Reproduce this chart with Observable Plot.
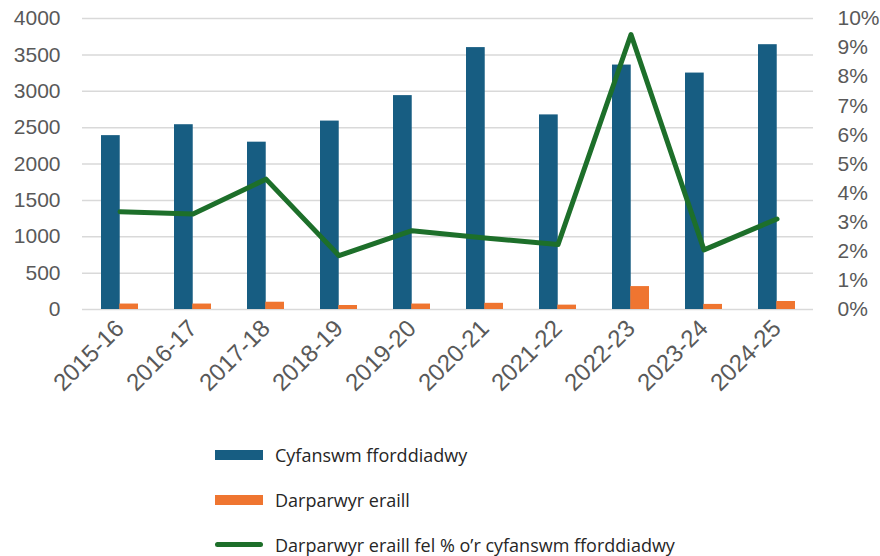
<!DOCTYPE html>
<html><head><meta charset="utf-8">
<script src="https://cdn.jsdelivr.net/npm/d3@7"></script>
<script src="https://cdn.jsdelivr.net/npm/@observablehq/plot@0.6"></script>
<style>
body{margin:0;background:#fff;}
#legend{font-family:"Open Sans",sans-serif;font-size:18px;color:#262626;padding-left:215px;padding-top:12px;}
.item{display:flex;align-items:center;height:45px;}
.sw{width:48px;height:10px;margin-right:12px;}
.ln{width:48px;height:5px;border-radius:3px;margin-right:12px;}
</style></head><body><div id="chart"></div><div id="legend"></div>
<script>
const years = ["2015-16","2016-17","2017-18","2018-19","2019-20","2020-21","2021-22","2022-23","2023-24","2024-25"];
const total = [2390,2540,2300,2590,2940,3600,2675,3360,3250,3640];
const others = [75,75,100,55,75,85,60,315,70,110];
const pct = [3.36,3.28,4.48,1.85,2.71,2.46,2.23,9.45,2.05,3.11];
const leftTicks = [0,500,1000,1500,2000,2500,3000,3500,4000];
const rightTicks = [0,1,2,3,4,5,6,7,8,9,10];
const seriesNames = ["Cyfanswm fforddiadwy","Darparwyr eraill","Darparwyr eraill fel % o’r cyfanswm fforddiadwy"];
const colors = ["#175d82","#ef7530","#1d6f2a"];

const rows = years.map((y,i)=>({year:y,total:total[i],others:others[i],pct:pct[i]}));
const k = 4000/10; // percent -> left scale
const W = 880, mL = 82, mR = 67;
const half = 0.5*(W-mL-mR)/years.length/2;

const chart = Plot.plot({
  width:W, height:420, marginLeft:mL, marginRight:mR, marginTop:18, marginBottom:111,
  style:{fontFamily:"'Liberation Sans', Arial, sans-serif", fontSize:"21px", color:"#595959", background:"#fff"},
  x:{domain:years, paddingInner:0.5, paddingOuter:0.25},
  y:{domain:[0,4000]},
  marks:[
    Plot.gridY(leftTicks,{stroke:"#d9d9d9",strokeOpacity:1,strokeWidth:1.5}),
    Plot.axisY(leftTicks,{tickSize:0,tickPadding:22,tickFormat:d=>String(d),label:null}),
    Plot.axisY(rightTicks.map(t=>t*k),{anchor:"right",tickSize:0,tickPadding:24,tickFormat:d=>Math.round(d/k)+"%",label:null}),
    Plot.axisX({tickSize:0,tickRotate:-45,tickPadding:15,fontSize:24,label:null}),
    Plot.barY(rows,{x:"year",y:"total",fill:colors[0],insetRight:half}),
    Plot.barY(rows,{x:"year",y:"others",fill:colors[1],insetLeft:half}),
    Plot.lineY(rows,{x:"year",y:d=>d.pct*k,stroke:colors[2],strokeWidth:5})
  ]
});
document.getElementById("chart").appendChild(chart);

const lg = document.getElementById("legend");
seriesNames.forEach((n,i)=>{
  const it = document.createElement("div"); it.className="item";
  const s = document.createElement("div"); s.className = i<2?"sw":"ln"; s.style.background=colors[i];
  const t = document.createElement("span"); t.textContent=n;
  it.appendChild(s); it.appendChild(t); lg.appendChild(it);
});
</script></body></html>
